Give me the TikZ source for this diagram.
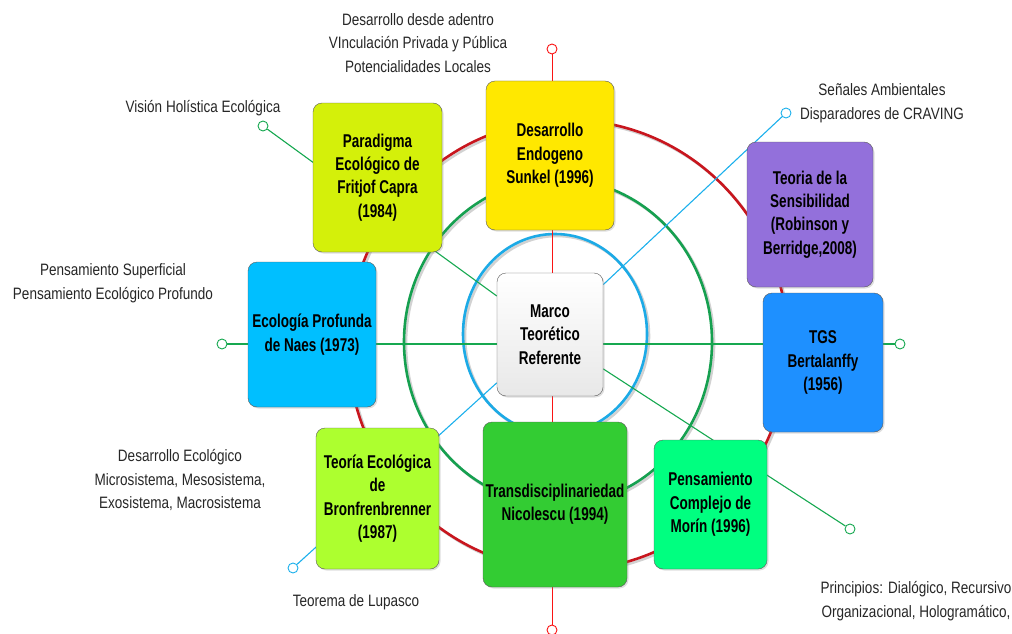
\documentclass[tikz,border=0pt]{standalone}
\usepackage{fontspec}
\setmainfont{Liberation Sans}[FakeStretch=0.82]
\newfontfamily\boxfont{Liberation Sans}[FakeStretch=0.73]
\usetikzlibrary{backgrounds}
\usetikzlibrary{shadows}

\definecolor{ringred}{RGB}{200,22,30}
\definecolor{ringgreen}{RGB}{22,160,80}
\definecolor{ringblue}{RGB}{28,170,230}
\definecolor{linered}{RGB}{250,20,20}
\definecolor{linegreen}{RGB}{22,168,80}
\definecolor{lineblue}{RGB}{28,176,236}

\begin{document}
\begin{tikzpicture}[
    x=1pt, y=-1pt,
    box/.style={
        draw=gray!70!black,
        rounded corners=9pt,
        align=center,
        inner sep=2pt,
        font=\boxfont\fontsize{18.5}{23.3}\selectfont\bfseries,
        drop shadow={opacity=0.25, shadow xshift=1.5pt, shadow yshift=-1.5pt}
    },
    note/.style={align=center, text=black!85, font=\fontsize{16.5}{23.5}\selectfont},
    dot/.style={circle, draw=#1, fill=white, line width=0.9pt, minimum size=10pt, inner sep=0pt},
    ring/.style={draw=#1, line width=2.6pt},
    link/.style={draw=#1, line width=1.1pt}
]
\useasboundingbox (0,0) rectangle (1012,634);

% Main nodes
\node[box, shading=axis, top color=white, bottom color=gray!18,
      minimum width=106pt, minimum height=123pt] (marco) at (550,334.5) {
    Marco\\ Teorético\\ Referente
};
\node[box, fill={rgb,255:red,255;green,232;blue,0},
      minimum width=128pt, minimum height=149pt] (endo) at (550,155.5) {
    Desarrollo\\ Endogeno\\ Sunkel (1996)
};
\node[box, fill={rgb,255:red,212;green,240;blue,10},
      minimum width=129pt, minimum height=149pt] (capra) at (377.5,177.5) {
    Paradigma\\ Ecológico de\\ Fritjof Capra\\ (1984)
};
\node[box, fill={rgb,255:red,0;green,191;blue,255},
      minimum width=128pt, minimum height=145pt] (naes) at (312,334.5) {
    Ecología Profunda\\ de Naes (1973)
};
\node[box, fill={rgb,255:red,173;green,255;blue,47},
      minimum width=123pt, minimum height=141pt] (bronf) at (377.5,498.5) {
    Teoría Ecológica\\ de\\ Bronfrenbrenner\\ (1987)
};
\node[box, fill={rgb,255:red,51;green,204;blue,51},
      minimum width=144pt, minimum height=165pt] (nicol) at (555,504.5) {
    Transdisciplinariedad\\ Nicolescu (1994)
};
\node[box, fill={rgb,255:red,0;green,255;blue,128},
      minimum width=113pt, minimum height=129pt] (morin) at (710.5,504.5) {
    Pensamiento\\ Complejo de\\ Morín (1996)
};
\node[box, fill={rgb,255:red,30;green,144;blue,255},
      minimum width=120pt, minimum height=139pt] (tgs) at (823,362.5) {
    TGS\\ Bertalanffy\\ (1956)
};
\node[box, fill={rgb,255:red,147;green,112;blue,219},
      minimum width=126pt, minimum height=145pt] (sensib) at (810,214.5) {
    Teoria de la\\ Sensibilidad\\ (Robinson y\\ Berridge,2008)
};

% End markers
\node[dot=linered] (mtop) at (552,49) {};
\node[dot=linered] (mbot) at (552,630) {};
\node[dot=linegreen] (mvis) at (263,126) {};
\node[dot=linegreen] (mnaes) at (222,344) {};
\node[dot=linegreen] (mtgs) at (900,344) {};
\node[dot=linegreen] (mmor) at (850,529) {};
\node[dot=lineblue] (mcrav) at (786,113) {};
\node[dot=lineblue] (mlup) at (293,568) {};

% Notes
\node[note] (ladentro) at (418,43) {Desarrollo desde adentro\\ VInculación Privada y Pública\\ Potencialidades Locales};
\node[note] (lvis) at (203,108) {Visión Holística Ecológica};
\node[note] (lsup) at (113,283) {Pensamiento Superficial\\ Pensamiento Ecológico Profundo};
\node[note] (leco) at (180,480) {Desarrollo Ecológico\\ Microsistema, Mesosistema,\\ Exosistema, Macrosistema};
\node[note] (llup) at (356,602) {Teorema de Lupasco};
\node[note] (lcrav) at (882,103) {Señales Ambientales\\ Disparadores de CRAVING};
\node[note] (lprin) at (916,601) {Principios: Dialógico, Recursivo\\ Organizacional, Hologramático,};

\begin{scope}[on background layer]
% Rings
\draw[gray!35, line width=2.6pt] (570,347) ellipse [x radius=220pt, y radius=225pt];
\draw[ring=ringred] (568,345) ellipse [x radius=220pt, y radius=225pt];
\draw[gray!35, line width=2.6pt] (560,344) ellipse [x radius=154pt, y radius=163pt];
\draw[ring=ringgreen] (558,342) ellipse [x radius=154pt, y radius=163pt];
\draw[gray!35, line width=2.6pt] (557,336) ellipse [x radius=92pt, y radius=100pt];
\draw[ring=ringblue] (555,334) ellipse [x radius=92pt, y radius=100pt];

% Connectors
\draw[link=linered, line width=0.9pt] (mtop) -- (mtop |- marco.north);
\draw[link=linered, line width=0.9pt] (mbot) -- (mbot |- marco.south);
\draw[link=linegreen] (marco) -- (mvis);
\draw[link=linegreen] (mnaes) -- (mnaes -| marco.west);
\draw[link=linegreen] (mtgs) -- (mtgs -| marco.east);
\draw[link=linegreen] (marco) -- (mmor);
\draw[link=lineblue] (marco) -- (mcrav);
\draw[link=lineblue] (marco) -- (mlup);
\end{scope}

\end{tikzpicture}
\end{document}
